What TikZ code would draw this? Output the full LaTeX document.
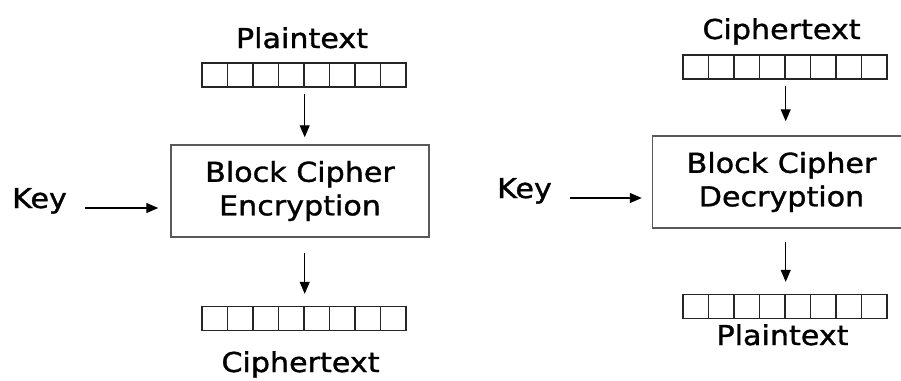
\documentclass[tikz,border=0pt]{standalone}
\usepackage{fontspec}
\setmainfont[FakeStretch=1.1, FakeBold=1.2]{DejaVu Sans}
\usetikzlibrary{arrows.meta}

\begin{document}
\begin{tikzpicture}[x=1pt, y=-1pt,
        txt/.style={inner sep=0pt, anchor=base, font=\fontsize{27.4pt}{33.5pt}\selectfont},
        cipher/.style={draw=black!65, line width=1.5pt, minimum width=258pt, minimum height=92pt,
            align=center, inner sep=0pt, font=\fontsize{27.4pt}{33.5pt}\selectfont},
        cell/.style={draw=black!85, line width=1.4pt, minimum width=25.5pt, minimum height=24pt, inner sep=0pt},
        arr/.style={line width=1.1pt, -{Triangle[length=12pt, width=10pt]}}]
    \useasboundingbox (0, 0) rectangle (901, 380);

    % encryption
    \node[txt] (pin) at (302, 48) {Plaintext};
    \foreach \i in {1,...,8}
        \node[cell] (a\i) at (189.25 + 25.5*\i, 75) {};
    \node[cipher] (enc) at (300, 191) {Block Cipher\\Encryption};
    \node[txt] (key) at (39.5, 208) {Key};
    \foreach \i in {1,...,8}
        \node[cell] (b\i) at (189.25 + 25.5*\i, 318.5) {};
    \node[txt] (cout) at (300.5, 372) {Ciphertext};

    \draw[arr, shorten <=6pt, shorten >=7pt] (a4.south east) -- (a4.south east |- enc.north);
    \draw[arr, shorten <=15pt, shorten >=12pt] (b4.north east |- enc.south) -- (b4.north east);
    \draw[arr, shorten <=18pt, shorten >=12pt] (key.base east) -- (key.base east -| enc.west);

    % decryption
    \node[txt] (cin) at (781.5, 39) {Ciphertext};
    \foreach \i in {1,...,8}
        \node[cell] (c\i) at (670.25 + 25.5*\i, 67) {};
    \node[cipher] (dec) at (781.5, 182) {Block Cipher\\Decryption};
    \node[txt] (key2) at (524.5, 198) {Key};
    \foreach \i in {1,...,8}
        \node[cell] (d\i) at (670.25 + 25.5*\i, 306.5) {};
    \node[txt] (pout) at (782.5, 345) {Plaintext};

    \draw[arr, shorten <=6pt, shorten >=14pt] (c4.south east) -- (c4.south east |- dec.north);
    \draw[arr, shorten <=13pt, shorten >=12pt] (d4.north east |- dec.south) -- (d4.north east);
    \draw[arr, shorten <=18pt, shorten >=10pt] (key2.base east) -- (key2.base east -| dec.west);
\end{tikzpicture}
\end{document}
